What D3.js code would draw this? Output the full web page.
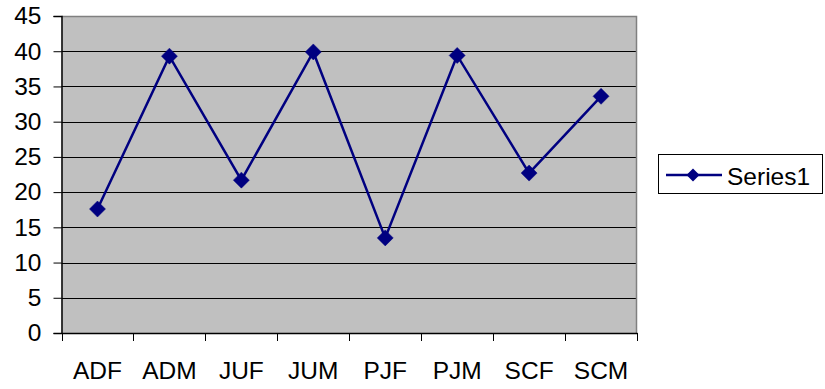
<!DOCTYPE html>
<html><head><meta charset="utf-8">
<script src="https://cdn.jsdelivr.net/npm/d3@7"></script>
<style>body{margin:0;background:#fff;} text{font-family:"Liberation Sans",Arial,sans-serif;}</style>
</head><body>
<svg id="c" width="825" height="389"></svg>
<script>
const categories = ["ADF","ADM","JUF","JUM","PJF","PJM","SCF","SCM"];
const series1 = [17.6, 39.3, 21.7, 39.9, 13.5, 39.4, 22.7, 33.6];
const yTicks = [0,5,10,15,20,25,30,35,40,45];
const seriesName = "Series1";

const svg = d3.select("#c");
const L = 61.5, R = 637, T = 16, B = 333;
const FS = "24.5px";
const x = d3.scaleBand().domain(categories).range([L, R]);
const y = d3.scaleLinear().domain([0,45]).range([B, T]);

svg.append("rect").attr("x",L).attr("y",T).attr("width",R-L).attr("height",B-T).attr("fill","#c0c0c0");
// gridlines
svg.append("g").selectAll("line").data(yTicks.filter(d=>d>0)).join("line")
  .attr("x1",L).attr("x2",R).attr("y1",d=>Math.round(y(d))+0.5).attr("y2",d=>Math.round(y(d))+0.5)
  .attr("stroke","#000").attr("stroke-width",1);
// top/right border
svg.append("path").attr("d",`M${L},${T+0.5}H${R-0.5}V${B}`).attr("fill","none").attr("stroke","#808080").attr("stroke-width",1.5);

// y axis
const ya = svg.append("g").attr("transform",`translate(${L},0)`)
  .call(d3.axisLeft(y).tickValues(yTicks).tickSize(8).tickPadding(12));
ya.select(".domain").attr("stroke","#000").attr("stroke-width",1.5);
ya.selectAll(".tick line").attr("stroke","#000").attr("stroke-width",1);
ya.selectAll("text").style("font-size",FS).attr("fill","#000").style("font-family","Liberation Sans, Arial, sans-serif");

// x axis
const xa = svg.append("g").attr("transform",`translate(0,${B})`)
  .call(d3.axisBottom(x).tickSize(0).tickPadding(29));
xa.select(".domain").attr("stroke","#000").attr("stroke-width",1.5);
xa.selectAll("text").style("font-size",FS).attr("fill","#000").style("font-family","Liberation Sans, Arial, sans-serif");
// boundary ticks
const bounds = categories.map(c=>x(c)).concat([R]);
svg.append("g").selectAll("line").data(bounds).join("line")
  .attr("x1",d=>Math.round(d)+0.5).attr("x2",d=>Math.round(d)+0.5).attr("y1",B).attr("y2",B+8)
  .attr("stroke","#000").attr("stroke-width",1);

// line
const cx = c => x(c) + x.bandwidth()/2;
svg.append("path").datum(series1)
  .attr("d", d3.line().x((d,i)=>cx(categories[i])).y(d=>y(d)))
  .attr("fill","none").attr("stroke","#000080").attr("stroke-width",2.5);
const diamond = (px,py,r) => `M${px},${py-r}L${px+r},${py}L${px},${py+r}L${px-r},${py}Z`;
svg.append("g").selectAll("path").data(series1).join("path")
  .attr("d",(d,i)=>diamond(cx(categories[i]), y(d), 8))
  .attr("fill","#000080").attr("stroke","#000080").attr("stroke-width",0.5);

// legend
const lg = svg.append("g");
lg.append("rect").attr("x",658.5).attr("y",154.5).attr("width",164).attr("height",39)
  .attr("fill","#fff").attr("stroke","#000").attr("stroke-width",1);
lg.append("line").attr("x1",666).attr("x2",722).attr("y1",175).attr("y2",175).attr("stroke","#000080").attr("stroke-width",2.5);
lg.append("path").attr("d",diamond(693,175,6.5)).attr("fill","#000080");
lg.append("text").attr("x",727).attr("y",185).style("font-size",FS).attr("fill","#000").text(seriesName);
</script>
</body></html>
